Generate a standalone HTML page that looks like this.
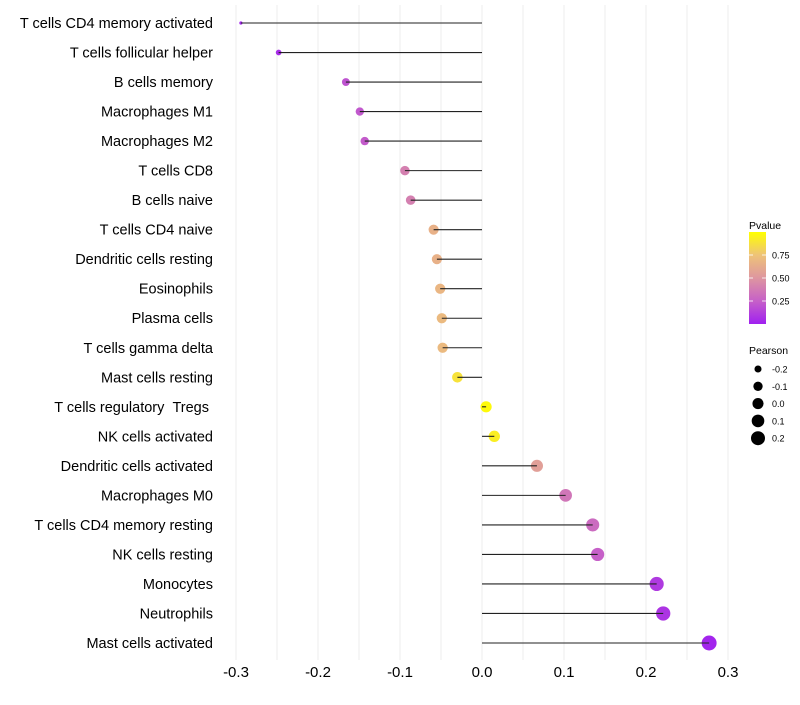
<!DOCTYPE html>
<html><head><meta charset="utf-8"><style>
body{margin:0;background:#fff;}
svg text{font-family:"Liberation Sans",sans-serif;white-space:pre;}
</style></head><body>
<svg id="chart" width="800" height="700" xmlns="http://www.w3.org/2000/svg"></svg>
<script>
const categories=["T cells CD4 memory activated","T cells follicular helper","B cells memory","Macrophages M1","Macrophages M2","T cells CD8","B cells naive","T cells CD4 naive","Dendritic cells resting","Eosinophils","Plasma cells","T cells gamma delta","Mast cells resting","T cells regulatory\u00a0\u00a0Tregs\u00a0","NK cells activated","Dendritic cells activated","Macrophages M0","T cells CD4 memory resting","NK cells resting","Monocytes","Neutrophils","Mast cells activated"];
const pearson=[-0.294,-0.248,-0.166,-0.149,-0.143,-0.094,-0.087,-0.059,-0.055,-0.051,-0.049,-0.048,-0.030,0.005,0.015,0.067,0.102,0.135,0.141,0.213,0.221,0.277];
const pvalue=[0.02,0.05,0.2,0.22,0.23,0.4,0.4,0.65,0.65,0.68,0.7,0.7,0.88,0.98,0.93,0.55,0.35,0.3,0.25,0.1,0.08,0.02];
const xTicks=[-0.3,-0.2,-0.1,0.0,0.1,0.2,0.3];
const xTickLabels=["-0.3","-0.2","-0.1","0.0","0.1","0.2","0.3"];
const pTicks=[0.25,0.5,0.75];
const pTickLabels=["0.25","0.50","0.75"];
const sizeLegend=[-0.2,-0.1,0.0,0.1,0.2];
const sizeLegendLabels=["-0.2","-0.1","0.0","0.1","0.2"];

const NS="http://www.w3.org/2000/svg";
const svg=document.getElementById('chart');
function mk(t,a,p){const e=document.createElementNS(NS,t);for(const k in a)e.setAttribute(k,a[k]);(p||svg).appendChild(e);return e;}
const x=v=>482+v*820;
const y=i=>23+i*(620/21);
const rad=v=>{const d=v+0.294;return d<0.01?1.6:Math.sqrt(4+91*d);};
const stops=[[0,[160,32,240]],[0.25,[198,96,200]],[0.5,[222,150,160]],[0.75,[238,195,120]],[1,[255,255,0]]];
function col(p){for(let i=1;i<stops.length;i++){if(p<=stops[i][0]){const a=stops[i-1],b=stops[i],t=(p-a[0])/(b[0]-a[0]);const c=a[1].map((v,k)=>Math.round(v+(b[1][k]-v)*t));return `rgb(${c})`;}}return 'rgb(255,255,0)';}

for(let k=-6;k<=6;k++){
  const v=k*0.05;
  const g=mk('line',{x1:x(v),x2:x(v),y1:5,y2:660,stroke:'#ededed','stroke-width':1});
  
  
}
xTicks.forEach((v,i)=>{
  const t=mk('text',{x:x(v),y:677,'text-anchor':'middle','font-size':15,fill:'#000'});
  t.textContent=xTickLabels[i];
  
  
});
categories.forEach((c,i)=>{
  const t=mk('text',{x:213,y:y(i)+5,'text-anchor':'end','font-size':14.5,fill:'#000'});
  t.textContent=c;
  
  
  const pt=mk('circle',{cx:x(pearson[i]),cy:y(i),r:rad(pearson[i]),fill:col(pvalue[i])});
  
  
  const ln=mk('line',{x1:x(0),x2:x(pearson[i]),y1:y(i),y2:y(i),stroke:'#222','stroke-width':1.1});
  
  
});
const defs=mk('defs',{});
const lg=mk('linearGradient',{id:'pg',x1:0,y1:1,x2:0,y2:0},defs);
stops.forEach(s=>mk('stop',{offset:s[0],'stop-color':`rgb(${s[1]})`},lg));
const lt=mk('text',{x:749,y:229,'font-size':10.5});lt.textContent='Pvalue';


const pb=v=>324-v*92;
const bar=mk('rect',{x:749,y:pb(1),width:17,height:92,fill:'url(#pg)'});


pTicks.forEach((v,i)=>{
  mk('line',{x1:749,x2:753,y1:pb(v),y2:pb(v),stroke:'#fff','stroke-width':0.8});
  mk('line',{x1:762,x2:766,y1:pb(v),y2:pb(v),stroke:'#fff','stroke-width':0.8});
  const t=mk('text',{x:772,y:pb(v)+3.5,'font-size':9});t.textContent=pTickLabels[i];
  
  
});
const st=mk('text',{x:749,y:354,'font-size':10.5});st.textContent='Pearson';


sizeLegend.forEach((v,i)=>{
  const cy=369+i*17.3;
  const c=mk('circle',{cx:758,cy:cy,r:rad(v),fill:'#000'});
  
  
  const t=mk('text',{x:772,y:cy+3.5,'font-size':9});t.textContent=sizeLegendLabels[i];
  
  
});
</script>
</body></html>
